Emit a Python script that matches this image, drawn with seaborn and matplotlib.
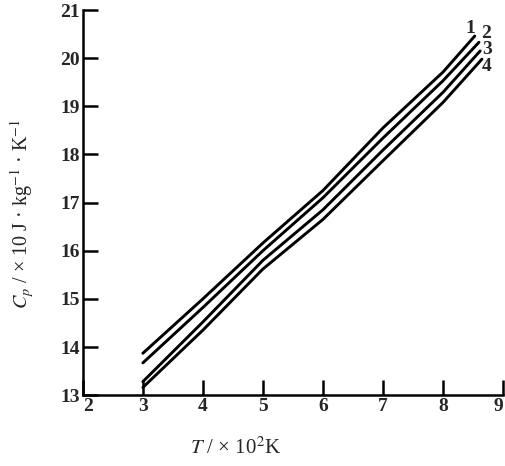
import numpy as np
import pandas as pd
import matplotlib
matplotlib.use("Agg")
import matplotlib.pyplot as plt
import seaborn as sns

# Data
T_vals = [3.0, 4.0, 5.0, 6.0, 7.0, 8.0]
curve1 = [13.87, 15.00, 16.16, 17.25, 18.55, 19.71]
curve2 = [13.67, 14.82, 16.00, 17.10, 18.34, 19.53]
curve3 = [13.28, 14.52, 15.80, 16.85, 18.09, 19.29]
curve4 = [13.16, 14.35, 15.62, 16.65, 17.87, 19.08]
end_T = [8.53, 8.60, 8.62, 8.65]
end_C = [20.46, 20.33, 20.15, 19.98]
curve_names = ["1", "2", "3", "4"]
x_ticks = [2, 3, 4, 5, 6, 7, 8, 9]
y_ticks = [13, 14, 15, 16, 17, 18, 19, 20, 21]

rows = []
for name, vals, et, ec in zip(curve_names, [curve1, curve2, curve3, curve4], end_T, end_C):
    for t, c in zip(T_vals + [et], vals + [ec]):
        rows.append({"T": t, "Cp": c, "curve": name})
df = pd.DataFrame(rows)

sns.set_theme(style="white")
plt.rcParams["font.family"] = ["Liberation Serif", "DejaVu Serif"]
plt.rcParams["mathtext.fontset"] = "stix"

fig = plt.figure(figsize=(5.05, 4.66), dpi=100)
ax = fig.add_axes([0.164, 0.152, 0.832, 0.8265])

sns.lineplot(data=df, x="T", y="Cp", hue="curve", sort=False,
             palette=["black"] * 4, linewidth=2.1, legend=False, ax=ax)

ax.set_xlim(2, 9.0)
ax.set_ylim(13, 21)
ax.set_xticks(x_ticks)
ax.set_yticks(y_ticks)
ax.set_xticklabels([str(v) for v in x_ticks], fontsize=14, fontweight="bold")
ax.set_yticklabels([str(v) for v in y_ticks], fontsize=14, fontweight="bold")
ax.get_xticklabels()[-1].set_horizontalalignment("right")
ax.get_xticklabels()[0].set_horizontalalignment("left")
ax.tick_params(axis="both", which="major", bottom=True, left=True,
               direction="in", length=11, width=1.8, color="black", pad=2)
ax.tick_params(axis="x", pad=2)
for s in ["top", "right"]:
    ax.spines[s].set_visible(False)
for s in ["left", "bottom"]:
    ax.spines[s].set_color("black")
    ax.spines[s].set_linewidth(1.8)
for line in ax.get_lines():
    line.set_clip_on(False)

ax.set_xlabel(r"$T$ / × 10$^2$K", fontsize=15)
ax.xaxis.set_label_coords(0.363, -0.11)
ax.set_ylabel(r"$C_p$ / × 10 J · kg$^{-1}$ · K$^{-1}$", fontsize=14.5)
ax.yaxis.set_label_coords(-0.112, 0.47)

label_pos = [(8.45, 20.62), (8.71, 20.52), (8.73, 20.18), (8.72, 19.82)]
for name, (lx, ly) in zip(curve_names, label_pos):
    ax.text(lx, ly, name, fontsize=14, fontweight="bold", ha="center", va="center")

fig.savefig("out.png", dpi=100)
